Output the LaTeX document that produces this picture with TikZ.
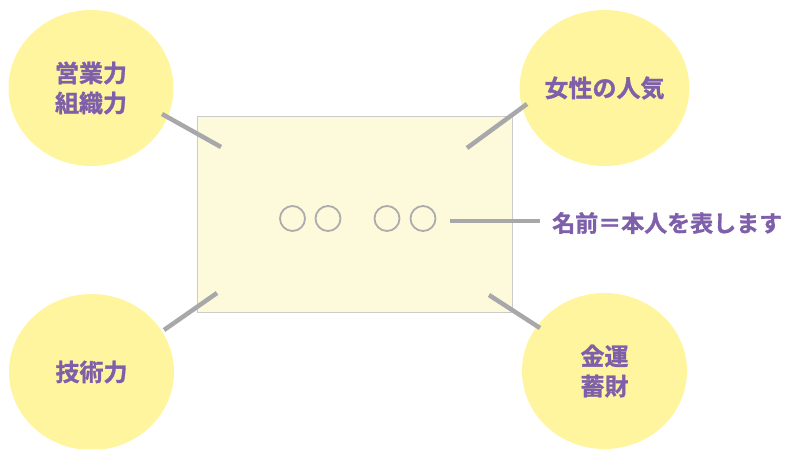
\documentclass[tikz,border=0pt]{standalone}
\usepackage{fontspec}
\newfontfamily\jp[FakeBold=1.2]{Noto Sans CJK JP Bold}
\definecolor{bub}{HTML}{FFF59E}
\definecolor{pur}{HTML}{7E5FAA}
\definecolor{lin}{HTML}{A8A8AA}
\definecolor{ringc}{HTML}{ACACAC}
\definecolor{cardfill}{HTML}{FDF9DB}
\definecolor{cardline}{HTML}{CBCBCB}
\usetikzlibrary{shapes.geometric}
\begin{document}
\begin{tikzpicture}[x=1pt,y=-1pt,
  bubble/.style={ellipse, fill=bub, minimum width=165pt, minimum height=156pt, inner sep=0pt, font=\jp\fontsize{24}{30}\selectfont, text=pur, align=center},
  conn/.style={draw=lin, line width=4.5pt},
  ring/.style={circle, draw=ringc, line width=1.8pt, minimum size=25pt, inner sep=0pt}]
\useasboundingbox (0,0) rectangle (787,448);
\node[draw=cardline, fill=cardfill, line width=1pt, minimum width=315pt, minimum height=196pt, inner sep=0pt] (card) at (354.5,214) {};
\node[bubble] (b1) at (91,88) {営業力\\組織力};
\node[bubble] (b2) at (604.5,88) {女性の人気};
\node[bubble] (b3) at (91.5,372) {技術力};
\node[bubble] (b4) at (604.5,371) {金運\\蓄財};
\node[ring] (r1) at (292.5,218.5) {};
\node[ring] (r2) at (328,218.5) {};
\node[ring] (r3) at (387,218.5) {};
\node[ring] (r4) at (423,218.5) {};
\node[font=\jp\fontsize{23}{28}\selectfont, text=pur, anchor=west, inner sep=0pt] (lab) at (552,223) {名前＝本人を表します};
\coordinate (p1a) at (162,114); \coordinate (p1b) at (221,147);
\coordinate (p2a) at (527,104); \coordinate (p2b) at (467,148);
\coordinate (p3a) at (164,330); \coordinate (p3b) at (217,293);
\coordinate (p4a) at (489,295); \coordinate (p4b) at (540,328);
\coordinate (p5a) at (450,221); \coordinate (p5b) at (540,221);
\draw[conn] (p1a) -- (p1b);
\draw[conn] (p2a) -- (p2b);
\draw[conn] (p3a) -- (p3b);
\draw[conn] (p4a) -- (p4b);
\draw[conn] (p5a) -- (p5b);
\end{tikzpicture}
\end{document}
